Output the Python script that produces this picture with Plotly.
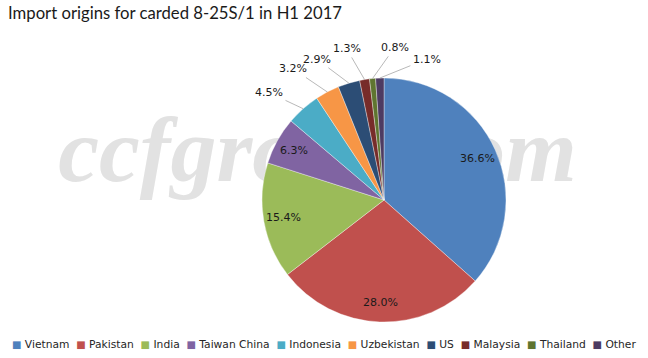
import math
import plotly.graph_objects as go

title_text = "Import origins for carded 8-25S/1 in H1 2017"
countries = ["Vietnam", "Pakistan", "India", "Taiwan China", "Indonesia",
             "Uzbekistan", "US", "Malaysia", "Thailand", "Other"]
shares = [36.6, 28.0, 15.4, 6.3, 4.5, 3.2, 2.9, 1.3, 0.8, 1.1]
colors = ["#4F81BD", "#C0504D", "#9BBB59", "#8064A2", "#4BACC6",
          "#F79646", "#2C4D75", "#772C2A", "#5F7530", "#4D3B62"]
watermark = "ccfgroup.com"

# label placement (style): pixel offsets of outside labels from the slice edge
outside_offsets = {"Indonesia": (-34, -16), "Uzbekistan": (-34, -23),
                   "US": (-32, -24), "Malaysia": (-18, -31),
                   "Thailand": (22, -31), "Other": (47, -19)}

W, H = 648, 358
cx, cy, r = 384, 200, 122

fig = go.Figure()

# watermark behind the pie (cartesian layer is drawn under the pie layer)
fig.add_trace(go.Scatter(
    x=[0.49], y=[0.56], mode="text", text=[watermark],
    textfont=dict(family="Liberation Serif", size=92, color="#e2e2e2",
                  style="italic", weight="bold"),
    showlegend=False, hoverinfo="skip"))

fig.add_trace(go.Pie(
    labels=countries, values=shares, sort=False, direction="clockwise",
    rotation=0, textinfo="none",
    marker=dict(colors=colors, line=dict(color="rgba(255,255,255,0.6)", width=0.6)),
    domain=dict(x=[(cx - r) / W, (cx + r) / W],
                y=[(H - cy - r) / H, (H - cy + r) / H]),
    showlegend=False, hoverinfo="label+value"))

annotations = []
total = sum(shares)
cum = 0.0
label_font = dict(family="DejaVu Sans", size=11, color="#1a1a1a")
for name, v in zip(countries, shares):
    mid = (cum + v / 2) / total * 2 * math.pi
    cum += v
    s, c = math.sin(mid), math.cos(mid)
    txt = f"{v:.1f}%"
    if name in outside_offsets:
        ax, ay = outside_offsets[name]
        tx, ty = cx + r * s, cy - r * c
        annotations.append(dict(
            text=txt, x=tx / W, y=1 - ty / H, xref="paper", yref="paper",
            showarrow=True, ax=ax, ay=ay, arrowhead=0, arrowwidth=0.8,
            arrowcolor="#a6a6a6", standoff=0, startstandoff=1,
            xanchor="center", yanchor="middle", font=label_font))
    else:
        rr = 0.84 * r
        tx, ty = cx + rr * s, cy - rr * c
        annotations.append(dict(
            text=txt, x=tx / W, y=1 - ty / H, xref="paper", yref="paper",
            showarrow=False, xanchor="center", yanchor="middle",
            font=label_font))

legend_parts = []
for name, col in zip(countries, colors):
    legend_parts.append(
        f"<span style='color:{col};font-size:10px'>■</span>&nbsp;{name}")
legend_text = "&nbsp;&nbsp;".join(legend_parts)
annotations.append(dict(text=legend_text, x=324 / W, y=1 - 344 / H,
                        xref="paper", yref="paper", xanchor="center",
                        yanchor="middle", showarrow=False,
                        font=dict(family="DejaVu Sans", size=10.7, color="#262626")))

fig.update_layout(
    width=W, height=H,
    margin=dict(l=0, r=0, t=0, b=0),
    paper_bgcolor="white", plot_bgcolor="white",
    xaxis=dict(visible=False, range=[0, 1], domain=[0, 1], fixedrange=True),
    yaxis=dict(visible=False, range=[0, 1], domain=[0, 1], fixedrange=True),
    title=dict(text=title_text, x=8 / W, xanchor="left", xref="paper",
               y=1 - 13 / H, yanchor="middle", yref="paper",
               font=dict(family="Lato", size=16.7, color="#1a1a1a")),
    annotations=annotations,
    showlegend=False,
)

fig.write_html("out.html")
